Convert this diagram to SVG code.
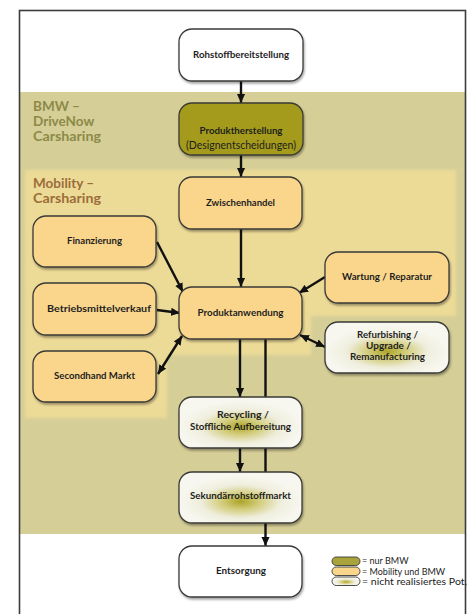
<svg xmlns="http://www.w3.org/2000/svg" width="470" height="614" viewBox="0 0 470 614">
<style>
.n{stroke:#3a3a36;stroke-width:1.3}
.w{fill:#ffffff}
.o{fill:#fad68c}
.d{fill:#a49b1f}
.p{fill:url(#pot)}
.t{font-family:Lato,"Open Sans","Liberation Sans",sans-serif;font-weight:bold;font-size:9.5px;fill:#1e1e1e;text-anchor:middle}
.c{stroke:#111;stroke-width:2.4;fill:none}
.lg{font-family:Lato,"Open Sans","Liberation Sans",sans-serif;font-size:9px;fill:#1e1e1e}
.h{font-family:Lato,"Open Sans","Liberation Sans",sans-serif;font-weight:bold;font-size:13.5px}
</style>
<defs>
<radialGradient id="pot" cx="0.5" cy="0.58" r="0.5">
<stop offset="0" stop-color="#aca427"/>
<stop offset="0.3" stop-color="#d2cc7a"/>
<stop offset="0.65" stop-color="#efeedd"/>
<stop offset="1" stop-color="#f7f7f0"/>
</radialGradient>
<filter id="sh" x="-10%" y="-10%" width="125%" height="135%">
<feDropShadow dx="1" dy="2" stdDeviation="1.2" flood-color="#000" flood-opacity="0.35"/>
</filter>
<filter id="soft"><feGaussianBlur stdDeviation="1.5"/></filter>
<marker id="ah" viewBox="0 0 10 9" refX="10" refY="4.5" markerWidth="9" markerHeight="9" markerUnits="userSpaceOnUse" orient="auto-start-reverse">
<path d="M0,0 L10,4.5 L0,9 z" fill="#111"/>
</marker>
</defs>
<rect x="0" y="0" width="470" height="614" fill="#ffffff"/>
<g id="bands">
<rect x="20" y="92" width="445" height="442" fill="#d6ce97"/>
<polygon points="25,170 456,170 456,316 311,316 311,355 167,355 167,418 25,418" fill="#ecda97" filter="url(#soft)"/>
</g>
<rect x="19.5" y="10.5" width="446" height="620" fill="none" stroke="#3c3c3c" stroke-width="1.6"/>
<g id="labels">
<text class="h" fill="#8b8a47"><tspan x="33" y="111">BMW –</tspan><tspan x="33" y="126">DriveNow</tspan><tspan x="33" y="141" textLength="68" lengthAdjust="spacingAndGlyphs">Carsharing</tspan></text>
<text class="h" fill="#9c6d3a"><tspan x="33" y="188">Mobility –</tspan><tspan x="33" y="203" textLength="68" lengthAdjust="spacingAndGlyphs">Carsharing</tspan></text>
</g>
<g id="connectors">
<line class="c" x1="241" y1="81" x2="241" y2="103" marker-end="url(#ah)"/>
<line class="c" x1="241" y1="155" x2="241" y2="177" marker-end="url(#ah)"/>
<line class="c" x1="241" y1="229" x2="241" y2="287" marker-end="url(#ah)"/>
<line class="c" x1="157" y1="242" x2="183" y2="292" marker-end="url(#ah)"/>
<line class="c" x1="157" y1="310" x2="180" y2="313" marker-end="url(#ah)"/>
<line class="c" x1="158" y1="374" x2="182" y2="336" marker-start="url(#ah)" marker-end="url(#ah)"/>
<line class="c" x1="325" y1="277" x2="299" y2="293" marker-end="url(#ah)"/>
<line class="c" x1="300" y1="335" x2="325" y2="347" marker-start="url(#ah)" marker-end="url(#ah)"/>
<line class="c" x1="240" y1="339" x2="240" y2="397" marker-end="url(#ah)"/>
<line class="c" x1="265.5" y1="339" x2="265.5" y2="546" marker-end="url(#ah)"/>
<line class="c" x1="240" y1="448" x2="240" y2="472" marker-end="url(#ah)"/>
</g>
<g id="rohstoff"><rect class="n w" x="179" y="29" width="124" height="52" rx="13" filter="url(#sh)"/><text class="t" x="241" y="58" textLength="96" lengthAdjust="spacingAndGlyphs">Rohstoffbereitstellung</text></g>
<g id="produktherstellung"><rect class="n d" x="179" y="103" width="124" height="52" rx="13" filter="url(#sh)"/><text class="t" x="241" y="134" textLength="83" lengthAdjust="spacingAndGlyphs">Produktherstellung</text><text class="t" x="241" y="149" style="font-weight:normal;font-size:10.5px" textLength="110" lengthAdjust="spacingAndGlyphs">(Designentscheidungen)</text></g>
<g id="zwischenhandel"><rect class="n o" x="179" y="177" width="123" height="52" rx="13" filter="url(#sh)"/><text class="t" x="240.5" y="206" textLength="69" lengthAdjust="spacingAndGlyphs">Zwischenhandel</text></g>
<g id="finanzierung"><rect class="n o" x="33" y="216" width="123" height="51" rx="13" filter="url(#sh)"/><text class="t" x="94.5" y="244" textLength="55" lengthAdjust="spacingAndGlyphs">Finanzierung</text></g>
<g id="betriebsmittelverkauf"><rect class="n o" x="33" y="283" width="123" height="52" rx="13" filter="url(#sh)"/><text class="t" x="99" y="312" textLength="104" lengthAdjust="spacingAndGlyphs">Betriebsmittelverkauf</text></g>
<g id="secondhand"><rect class="n o" x="33" y="351" width="123" height="51" rx="13" filter="url(#sh)"/><text class="t" x="94.5" y="379" textLength="81" lengthAdjust="spacingAndGlyphs">Secondhand Markt</text></g>
<g id="produktanwendung"><rect class="n o" x="179" y="287" width="123" height="52" rx="13" filter="url(#sh)"/><text class="t" x="240.5" y="316" textLength="86" lengthAdjust="spacingAndGlyphs">Produktanwendung</text></g>
<g id="wartung"><rect class="n o" x="325" y="252" width="124" height="51" rx="13" filter="url(#sh)"/><text class="t" x="387" y="280" textLength="90" lengthAdjust="spacingAndGlyphs">Wartung / Reparatur</text></g>
<g id="refurbishing"><rect class="n p" x="325" y="322" width="124" height="51" rx="13" filter="url(#sh)"/><text class="t" x="387.5" y="338" textLength="61" lengthAdjust="spacingAndGlyphs">Refurbishing /</text><text class="t" x="388.5" y="349" textLength="45" lengthAdjust="spacingAndGlyphs">Upgrade /</text><text class="t" x="387.5" y="360" textLength="75" lengthAdjust="spacingAndGlyphs">Remanufacturing</text></g>
<g id="recycling"><rect class="n p" x="179" y="397" width="123" height="51" rx="13" filter="url(#sh)"/><text class="t" x="243" y="418" textLength="52" lengthAdjust="spacingAndGlyphs">Recycling /</text><text class="t" x="240.5" y="430" textLength="101" lengthAdjust="spacingAndGlyphs">Stoffliche Aufbereitung</text></g>
<g id="sekundaer"><rect class="n p" x="179" y="472" width="123" height="51" rx="13" filter="url(#sh)"/><text class="t" x="240.5" y="499" textLength="101" lengthAdjust="spacingAndGlyphs">Sekundärrohstoffmarkt</text></g>
<g id="entsorgung"><rect class="n w" x="179" y="546" width="123" height="51" rx="13" filter="url(#sh)"/><text class="t" x="241" y="574" textLength="50" lengthAdjust="spacingAndGlyphs">Entsorgung</text></g>
<g id="legend">
<rect x="332" y="557" width="28" height="8.5" rx="4.25" fill="#a9a33c" stroke="#3a3a36" stroke-width="0.9"/>
<text class="lg" x="362" y="564">= nur BMW</text>
<rect x="332" y="567" width="28" height="8.5" rx="4.25" fill="#fad68c" stroke="#3a3a36" stroke-width="0.9"/>
<text class="lg" x="362" y="574.5">= Mobility und BMW</text>
<rect x="332" y="577" width="28" height="8.5" rx="4.25" fill="url(#pot)" stroke="#3a3a36" stroke-width="0.9"/>
<text class="lg" x="362" y="584.5" textLength="105" lengthAdjust="spacingAndGlyphs">= nicht realisiertes Pot.</text>
</g>
</svg>
